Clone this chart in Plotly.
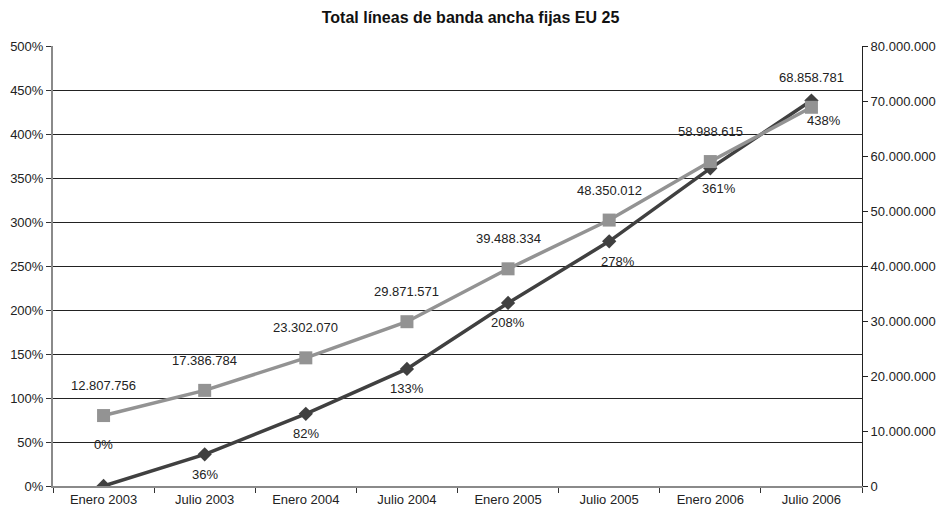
import plotly.graph_objects as go

categories = ["Enero 2003", "Julio 2003", "Enero 2004", "Julio 2004",
              "Enero 2005", "Julio 2005", "Enero 2006", "Julio 2006"]
growth_pct = [0, 36, 82, 133, 208, 278, 361, 438]
total_lines = [12807756, 17386784, 23302070, 29871571,
               39488334, 48350012, 58988615, 68858781]

pct_labels = [f"{v}%" for v in growth_pct]
lines_labels = [f"{v:,}".replace(",", ".") for v in total_lines]

FONT = "Liberation Sans, Arial, sans-serif"
DARK = "#404040"
GRAY = "#939393"
TXT = "#222"

fig = go.Figure()
fig.add_trace(go.Scatter(
    x=categories, y=growth_pct, mode="lines+markers",
    line=dict(color=DARK, width=3.5),
    marker=dict(symbol="diamond", size=11, color=DARK),
    yaxis="y", showlegend=False, hoverinfo="skip"))
fig.add_trace(go.Scatter(
    x=categories, y=total_lines, mode="lines+markers",
    line=dict(color=GRAY, width=3.5),
    marker=dict(symbol="square", size=13, color=GRAY),
    yaxis="y2", showlegend=False, hoverinfo="skip"))

annotations = []
pct_xshift = [0, 0, 0, 0, 0, 9, 9, 13]
for i, (c, v, t) in enumerate(zip(categories, growth_pct, pct_labels)):
    annotations.append(dict(
        x=c, y=v, xref="x", yref="y", text=t, showarrow=False,
        yshift=(42 if i == 0 else -20), xshift=pct_xshift[i],
        font=dict(family=FONT, size=13, color=TXT)))
for c, v, t in zip(categories, total_lines, lines_labels):
    annotations.append(dict(
        x=c, y=v, xref="x", yref="y2", text=t, showarrow=False,
        yshift=30, font=dict(family=FONT, size=13, color=TXT)))

fig.update_layout(
    width=941, height=514,
    margin=dict(l=53, r=79, t=46, b=28, autoexpand=False),
    paper_bgcolor="white", plot_bgcolor="white",
    separators=",.",
    title=dict(text="<b>Total líneas de banda ancha fijas EU 25</b>",
               x=0.5, xanchor="center", y=1 - 17 / 514, yanchor="middle",
               font=dict(family=FONT, size=16, color="#111")),
    font=dict(family=FONT, size=13, color=TXT),
    xaxis=dict(type="category", showgrid=False, showline=True,
               linecolor="#8a8a8a", linewidth=2, ticks="outside",
               tickson="boundaries", ticklen=5, tickcolor="#333",
               range=[-0.5, 7.5], tickfont=dict(size=13), automargin=False),
    yaxis=dict(range=[0, 500], dtick=50, ticksuffix="%",
               showgrid=True, gridcolor="#222", gridwidth=1,
               showline=True, linecolor="#8a8a8a", linewidth=2,
               ticks="outside", ticklen=5, tickcolor="#333",
               zeroline=False, tickfont=dict(size=13), automargin=False),
    yaxis2=dict(range=[0, 80000000], dtick=10000000, tickformat=",d",
                overlaying="y", side="right", showgrid=False,
                showline=True, linecolor="#222", linewidth=1,
                ticks="outside", ticklen=5, tickcolor="#222",
                zeroline=False, tickfont=dict(size=13), automargin=False),
    annotations=annotations,
)

fig.write_html("out.html")
